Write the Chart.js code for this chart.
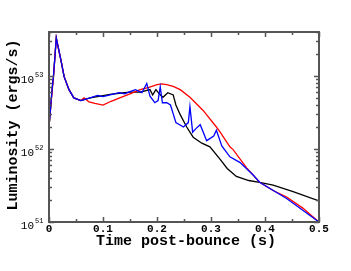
<!DOCTYPE html>
<html>
<head>
<meta charset="utf-8">
<script src="https://cdn.jsdelivr.net/npm/chart.js@4/dist/chart.umd.min.js"></script>
<style>
  html, body { margin: 0; padding: 0; background: #fff; }
  #wrap { width: 351px; height: 271px; }
</style>
</head>
<body>
<div id="wrap"><canvas id="lumChart" width="351" height="271"></canvas></div>
<script>
// time post-bounce (s) and luminosity (erg/s) for each run
const tBlack = [0, 0.006, 0.008, 0.0135, 0.022, 0.028, 0.037, 0.046, 0.059, 0.076, 0.095, 0.113, 0.13, 0.15, 0.169, 0.187, 0.192, 0.198, 0.205, 0.211, 0.22, 0.23, 0.235, 0.243, 0.255, 0.267, 0.283, 0.298, 0.317, 0.33, 0.347, 0.37, 0.39, 0.415, 0.452, 0.5];
const lBlack = [2.0e52, 6.9e52, 9.3e52, 3.3e53, 1.66e53, 9.8e52, 6.5e52, 5.0e52, 4.6e52, 5.0e52, 5.3e52, 5.6e52, 5.8e52, 6.0e52, 6.0e52, 6.5e52, 5.5e52, 6.5e52, 5.6e52, 5.1e52, 5.9e52, 5.5e52, 4.0e52, 2.95e52, 2.0e52, 1.45e52, 1.2e52, 1.07e52, 7.2e51, 5.4e51, 4.2e51, 3.7e51, 3.5e51, 3.2e51, 2.6e51, 1.95e51];

const tRed = [0, 0.006, 0.008, 0.0135, 0.022, 0.028, 0.037, 0.046, 0.059, 0.065, 0.074, 0.085, 0.1, 0.115, 0.131, 0.15, 0.169, 0.185, 0.2, 0.209, 0.218, 0.23, 0.243, 0.261, 0.285, 0.31, 0.317, 0.335, 0.341, 0.366, 0.39, 0.415, 0.44, 0.47, 0.5];
const lRed = [2.0e52, 6.5e52, 9.0e52, 3.3e53, 1.66e53, 9.8e52, 6.5e52, 5.0e52, 4.6e52, 5.0e52, 4.4e52, 4.2e52, 4.0e52, 4.5e52, 5.0e52, 5.7e52, 6.5e52, 7.0e52, 7.6e52, 7.8e52, 7.6e52, 7.2e52, 6.5e52, 5.1e52, 3.4e52, 2.0e52, 1.7e52, 1.07e52, 9.8e51, 5.5e51, 3.5e51, 2.7e51, 2.2e51, 1.55e51, 1.0e51];

const tBlue = [0, 0.006, 0.008, 0.0135, 0.022, 0.028, 0.037, 0.046, 0.059, 0.076, 0.09, 0.1, 0.113, 0.13, 0.14, 0.15, 0.16, 0.172, 0.181, 0.187, 0.196, 0.202, 0.206, 0.21, 0.218, 0.225, 0.235, 0.249, 0.258, 0.261, 0.266, 0.272, 0.28, 0.292, 0.305, 0.31, 0.32, 0.335, 0.354, 0.378, 0.39, 0.44, 0.5];
const lBlue = [2.0e52, 6.9e52, 9.3e52, 3.3e53, 1.66e53, 9.8e52, 6.5e52, 5.0e52, 4.6e52, 5.0e52, 5.4e52, 5.2e52, 5.5e52, 5.9e52, 5.7e52, 6.1e52, 6.5e52, 5.9e52, 7.9e52, 5.3e52, 4.3e52, 4.6e52, 7.1e52, 4.3e52, 4.3e52, 4.0e52, 2.3e52, 2.0e52, 2.3e52, 3.8e52, 1.7e52, 1.9e52, 2.15e52, 1.3e52, 1.5e52, 1.8e52, 1.1e52, 7.8e51, 6.5e51, 4.4e51, 3.5e51, 2.1e51, 1.0e51];

const xTicks = [0, 0.1, 0.2, 0.3, 0.4, 0.5];
const yDecades = [51, 52, 53];

const FONT = "'Liberation Mono', 'DejaVu Sans Mono', monospace";
const AXIS_COLOR = '#555';

function pts(ts, ls) {
  return ts.map((t, i) => ({ x: t, y: ls[i] }));
}

// draws the box, inward ticks, the 10^n labels and the axis titles
const framePlugin = {
  id: 'frame',
  afterDraw(chart) {
    const ctx = chart.ctx;
    const a = chart.chartArea;
    const xs = chart.scales.x, ys = chart.scales.y;
    ctx.save();
    ctx.strokeStyle = AXIS_COLOR;
    ctx.lineWidth = 1.5;

    // x ticks (bottom + top)
    for (let v = 0; v <= 0.5001; v += 0.05) {
      const px = Math.round(xs.getPixelForValue(v)) + 0.5;
      const major = Math.abs(v * 10 - Math.round(v * 10)) < 1e-6;
      const len = major ? 5 : 3;
      ctx.beginPath();
      ctx.moveTo(px, a.bottom); ctx.lineTo(px, a.bottom - len);
      ctx.moveTo(px, a.top); ctx.lineTo(px, a.top + len);
      ctx.stroke();
    }
    // y ticks (left + right)
    yDecades.forEach(d => {
      for (let m = 1; m <= 9; m++) {
        const v = m * Math.pow(10, d);
        if (v > ys.max * 1.0001) break;
        const py = Math.round(ys.getPixelForValue(v)) + 0.5;
        const len = m === 1 ? 5 : 3;
        ctx.beginPath();
        ctx.moveTo(a.left, py); ctx.lineTo(a.left + len, py);
        ctx.moveTo(a.right, py); ctx.lineTo(a.right - len, py);
        ctx.stroke();
      }
    });

    // frame
    ctx.lineWidth = 2;
    ctx.strokeRect(a.left, a.top, a.right - a.left, a.bottom - a.top);

    // y labels 10^n
    ctx.fillStyle = '#000';
    ctx.textBaseline = 'alphabetic';
    yDecades.forEach(d => {
      const py = ys.getPixelForValue(Math.pow(10, d));
      ctx.font = '11px ' + FONT;
      ctx.textAlign = 'right';
      ctx.fillText('10', 34, py + 7);
      ctx.font = '7px ' + FONT;
      ctx.textAlign = 'left';
      ctx.fillText(String(d), 35, py + 1);
    });

    // axis titles
    ctx.font = 'bold 15px ' + FONT;
    ctx.textAlign = 'center';
    ctx.fillText('Time post-bounce (s)', (a.left + a.right) / 2 + 2, 245);
    ctx.translate(17, (a.top + a.bottom) / 2 - 2);
    ctx.rotate(-Math.PI / 2);
    ctx.fillText('Luminosity (ergs/s)', 0, 0);
    ctx.restore();
  }
};

const line = (data, color) => ({
  data, borderColor: color, borderWidth: 1.3, pointRadius: 0, tension: 0, fill: false
});

new Chart(document.getElementById('lumChart'), {
  type: 'line',
  data: {
    // first dataset is painted on top
    datasets: [
      line(pts(tBlue, lBlue), '#0000ff'),
      line(pts(tRed, lRed), '#ff0000'),
      line(pts(tBlack, lBlack), '#000000')
    ]
  },
  options: {
    responsive: false,
    animation: false,
    layout: { padding: { left: 0, top: 32, right: 32, bottom: 0 } },
    plugins: { legend: { display: false }, tooltip: { enabled: false } },
    scales: {
      x: {
        type: 'linear', min: 0, max: 0.5,
        afterFit: s => { s.height = 49; },
        afterBuildTicks: s => { s.ticks = xTicks.map(v => ({ value: v })); },
        grid: { display: false, drawTicks: false, tickLength: 0 },
        border: { display: false },
        ticks: {
          padding: 1, color: '#000', maxRotation: 0,
          font: { family: FONT, size: 11, weight: 'bold' },
          callback: v => v === 0 ? '0' : v.toFixed(1)
        }
      },
      y: {
        type: 'logarithmic', min: 1e51, max: 4e53,
        afterFit: s => { s.width = 49; },
        grid: { display: false },
        border: { display: false },
        ticks: { display: false }
      }
    }
  },
  plugins: [framePlugin]
});
</script>
</body>
</html>
